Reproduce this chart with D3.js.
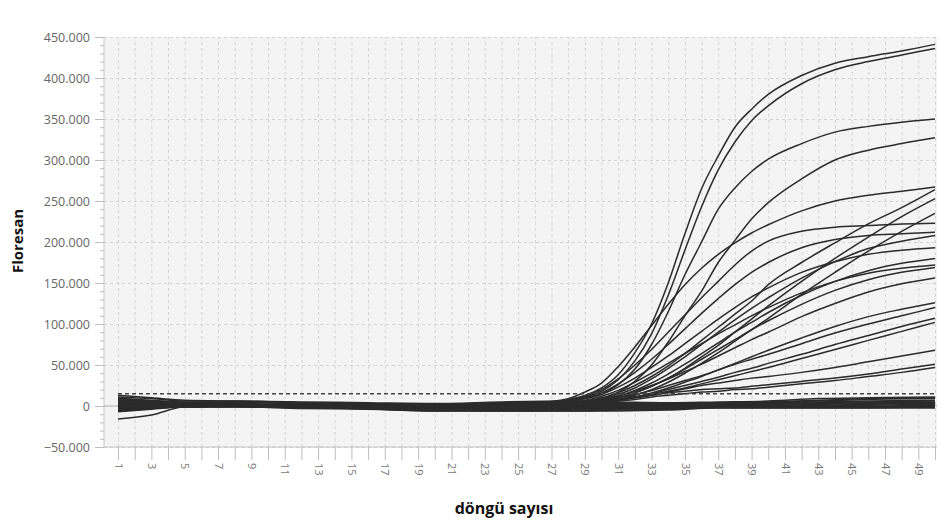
<!DOCTYPE html>
<html lang="tr">
<head>
<meta charset="UTF-8">
<script src="https://d3js.org/d3.v7.min.js"></script>
<style>
body { margin: 0; background: #fff; }
.axis text { font: 12.5px "Open Sans", sans-serif; fill: #666; }
.x.axis text { font-size: 11px; fill: #777; }
.axis line { stroke: #bdbdbd; }
.axisLine { stroke: #c4c4c4; stroke-width: 1; }
.grid line { stroke: #d4d4d4; stroke-dasharray: 3,3; }
.zero { stroke: #b5b5b5; }
.curve { fill: none; stroke: #2b2b2b; stroke-width: 1.5; }
.threshold { stroke: #444; stroke-width: 1.6; stroke-dasharray: 4,3; }
.label { font: bold 15px "Open Sans", sans-serif; fill: #111; }
</style>
</head>
<body>
<svg class="chart"></svg>
<script>
// fluorescence values are in thousands
const yTicks = [-50, 0, 50, 100, 150, 200, 250, 300, 350, 400, 450];
const cycles = d3.range(1, 51);
const threshold = 15;

const ampCycles = [1, 5, 10, 15, 20, 25, 28, 29, 30, 31, 32, 33, 34, 35, 36, 37, 38, 39, 40, 42, 44, 46, 48, 50];
const amplified = [
  [4, 2, 1, 0, -1, 1, 8, 13, 22, 38, 65, 100, 150, 210, 265, 305, 340, 362, 380, 403, 418, 426, 433, 441],
  [3, 2, 1, 0, -1, 1, 7, 11, 18, 32, 55, 88, 135, 190, 243, 288, 322, 348, 366, 393, 410, 420, 428, 436],
  [8, 3, 1, 1, 0, 2, 6, 9, 15, 26, 45, 75, 115, 160, 200, 240, 266, 286, 301, 320, 334, 341, 346, 350],
  [6, 2, 1, 0, -1, 1, 4, 6, 10, 17, 30, 50, 78, 110, 140, 175, 202, 228, 248, 277, 300, 312, 320, 327],
  [10, 3, 1, 0, -2, 2, 9, 17, 28, 48, 72, 98, 124, 148, 168, 185, 199, 211, 221, 238, 250, 257, 262, 267],
  [2, 1, 0, -2, -4, -3, 1, 5, 9, 16, 25, 36, 49, 64, 80, 96, 112, 128, 148, 175, 199, 222, 242, 264],
  [1, 1, 0, -2, -5, -4, 0, 3, 6, 10, 16, 24, 34, 46, 60, 74, 90, 106, 122, 152, 180, 206, 231, 253],
  [0, 0, 0, -3, -5, -5, -1, 2, 5, 8, 13, 20, 29, 40, 52, 65, 79, 93, 107, 136, 163, 189, 213, 235],
  [7, 3, 1, 0, -1, 2, 7, 12, 20, 33, 50, 69, 90, 111, 132, 152, 172, 189, 201, 213, 218, 220, 222, 223],
  [6, 2, 1, 0, -1, 2, 6, 10, 16, 27, 41, 57, 75, 94, 113, 131, 148, 163, 175, 193, 203, 208, 210, 212],
  [-2, 0, 0, -2, -4, -3, 1, 4, 8, 14, 22, 33, 46, 60, 75, 90, 105, 119, 132, 156, 176, 192, 201, 208],
  [5, 2, 1, 0, -1, 1, 5, 9, 14, 23, 34, 47, 61, 76, 91, 106, 120, 133, 144, 163, 176, 185, 190, 193],
  [-4, -1, 0, -2, -5, -4, 0, 3, 7, 12, 19, 28, 39, 51, 64, 77, 90, 102, 114, 135, 152, 165, 174, 180],
  [3, 1, 0, -1, -2, 0, 4, 7, 12, 19, 29, 40, 52, 64, 76, 88, 99, 110, 120, 138, 152, 162, 168, 172],
  [-5, -1, 0, -2, -6, -5, -1, 2, 6, 10, 16, 24, 34, 45, 57, 69, 81, 93, 104, 124, 141, 154, 163, 169],
  [2, 1, 0, -1, -3, -1, 3, 5, 8, 12, 18, 25, 33, 42, 51, 61, 71, 81, 90, 109, 125, 139, 149, 156],
  [-3, -1, 0, -2, -5, -5, -2, 1, 4, 7, 11, 16, 22, 29, 36, 44, 52, 60, 68, 83, 97, 109, 118, 126],
  [1, 0, 0, -1, -3, -2, 2, 4, 7, 10, 14, 19, 25, 31, 37, 44, 51, 57, 63, 76, 89, 100, 110, 120],
  [-1, 0, 0, -2, -4, -4, 0, 2, 5, 8, 11, 15, 20, 25, 30, 35, 41, 46, 52, 63, 75, 86, 97, 107],
  [0, 0, 0, -1, -3, -3, 1, 3, 6, 8, 11, 14, 18, 22, 27, 32, 37, 42, 47, 58, 69, 80, 91, 102],
  [-2, 0, 0, -2, -5, -5, -2, 1, 5, 7, 10, 13, 17, 21, 25, 28, 31, 34, 36, 41, 47, 54, 61, 68],
  [1, 1, 0, -1, -3, -2, 2, 4, 6, 8, 10, 13, 16, 18, 20, 21, 22, 24, 26, 30, 34, 39, 45, 51],
  [-1, 0, 0, -2, -4, -4, 0, 2, 4, 6, 8, 11, 13, 15, 17, 18, 20, 21, 23, 27, 31, 36, 41, 47]
];

const baseCycles = [1, 3, 5, 8, 12, 16, 20, 24, 28, 31, 34, 37, 40, 43, 46, 50];
const baseline = [
  [13, 10, 7, 6, 5, 4, 3, 5, 6, 5, 4, 5, 6, 9, 10, 11],
  [11, 9, 6, 6, 4, 3, 2, 4, 5, 4, 4, 4, 5, 7, 9, 10],
  [9, 7, 5, 5, 4, 2, 1, 3, 4, 3, 3, 4, 5, 6, 8, 9],
  [7, 6, 4, 4, 3, 2, 0, 2, 3, 3, 2, 3, 4, 5, 6, 7],
  [5, 4, 3, 3, 2, 1, 0, 1, 2, 2, 2, 2, 3, 4, 5, 6],
  [3, 2, 2, 2, 1, 0, -1, 0, 1, 1, 1, 2, 2, 3, 4, 5],
  [1, 1, 1, 1, 0, -1, -2, -1, 0, 0, 0, 1, 1, 2, 3, 4],
  [-1, 0, 0, 0, 0, -1, -2, -2, -1, -1, 0, 0, 1, 1, 2, 3],
  [-3, -1, 0, 0, -1, -2, -3, -3, -2, -2, -1, 0, 0, 0, 1, 2],
  [-5, -2, 0, -1, -1, -2, -3, -4, -3, -2, -1, -1, 0, 0, 0, 1],
  [-6, -3, -1, -1, -2, -3, -4, -5, -4, -3, -2, -1, -1, -1, -1, 0],
  [-7, -4, -1, -1, -2, -3, -5, -5, -5, -4, -3, -2, -2, -2, -2, -1],
  [-16, -11, -1, 0, -1, -2, -4, -6, -6, -5, -4, -2, -2, -2, -2, -2],
  [-6, -3, -1, -1, -3, -4, -6, -6, -6, -6, -5, -2, -2, -2, -2, -2]
];

let margin = { top: 37, right: 5, bottom: 75, left: 104 },
    width = 942 - margin.left - margin.right,
    height = 522 - margin.top - margin.bottom;

let svg = d3.select('.chart')
    .attr('width', 942)
    .attr('height', 522);

let chart = svg.append('g')
    .attr('transform', 'translate(' + margin.left + ',' + margin.top + ')');

let x = d3.scaleLinear().domain([1, 50]).range([14, width - 2]);
let y = d3.scaleLinear().domain([-50, 450]).range([height, 0]);

let trLocale = d3.formatLocale({ decimal: ',', thousands: '.', grouping: [3], currency: ['', ''] });
let fmt = d => d === 0 ? '0' : trLocale.format(',')(d * 1000);

chart.append('rect')
    .attr('width', width)
    .attr('height', height)
    .attr('fill', '#f4f4f4');

// grid
chart.append('g')
    .attr('class', 'grid')
    .attr('transform', 'translate(0,' + height + ')')
    .call(d3.axisBottom(x).tickValues(cycles).tickSize(-height).tickFormat(''))
    .call(g => g.select('.domain').remove());
chart.append('g')
    .attr('class', 'grid')
    .call(d3.axisLeft(y).tickValues(yTicks).tickSize(-width).tickFormat(''))
    .call(g => g.select('.domain').remove());
chart.append('line')
    .attr('class', 'zero')
    .attr('x1', 0).attr('x2', width)
    .attr('y1', y(0)).attr('y2', y(0));

// axes
chart.append('g')
    .attr('class', 'y axis')
    .call(d3.axisLeft(y).ticks(50).tickSize(4).tickFormat(''))
    .call(g => g.select('.domain').remove());
chart.append('g')
    .attr('class', 'y axis')
    .call(d3.axisLeft(y).tickValues(yTicks).tickSize(9).tickPadding(5).tickFormat(fmt))
    .call(g => g.select('.domain').remove());

chart.append('g')
    .attr('class', 'x axis')
    .attr('transform', 'translate(0,' + height + ')')
    .call(d3.axisBottom(x).tickValues(cycles).tickSize(13).tickFormat(d => d % 2 ? d : ''))
    .call(g => g.select('.domain').remove())
    .selectAll('text')
    .attr('transform', 'rotate(90)')
    .attr('text-anchor', 'start')
    .attr('x', 16)
    .attr('y', 0)
    .attr('dy', '0.35em');

chart.append('line').attr('class', 'axisLine')
    .attr('x1', 0).attr('x2', 0).attr('y1', 0).attr('y2', height);
chart.append('line').attr('class', 'axisLine')
    .attr('x1', 0).attr('x2', width).attr('y1', height).attr('y2', height);

// curves
let line = d3.line()
    .x(d => x(d[0]))
    .y(d => y(d[1]))
    .curve(d3.curveMonotoneX);

chart.selectAll('.base')
    .data(baseline)
    .enter().append('path')
    .attr('class', 'curve base')
    .attr('d', vals => line(vals.map((v, i) => [baseCycles[i], v])));

chart.selectAll('.amp')
    .data(amplified)
    .enter().append('path')
    .attr('class', 'curve amp')
    .attr('d', vals => line(vals.map((v, i) => [ampCycles[i], v])));

chart.append('line')
    .attr('class', 'threshold')
    .attr('x1', x(1)).attr('x2', x(50))
    .attr('y1', y(threshold)).attr('y2', y(threshold));

// labels
svg.append('text')
    .attr('class', 'label')
    .attr('transform', 'translate(23,241) rotate(-90)')
    .attr('text-anchor', 'middle')
    .text('Floresan');
svg.append('text')
    .attr('class', 'label')
    .attr('x', 504)
    .attr('y', 514)
    .attr('text-anchor', 'middle')
    .style('font-size', '16px')
    .text('döngü sayısı');
</script>
</body>
</html>
